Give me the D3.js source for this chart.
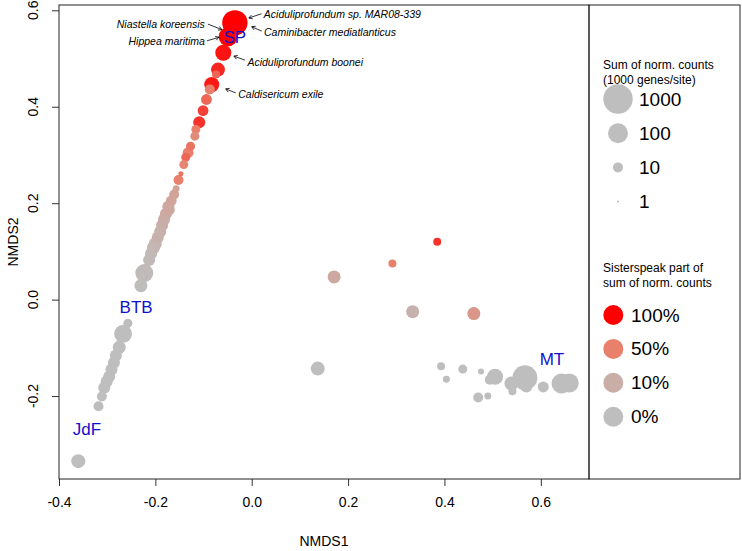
<!DOCTYPE html>
<html><head><meta charset="utf-8">
<script src="https://cdn.jsdelivr.net/npm/d3@7/dist/d3.min.js"></script>
<style>body{margin:0;background:#fff} svg text{font-family:"Liberation Sans",Arial,Helvetica,sans-serif}</style>
</head><body><svg id="c" width="742" height="551"></svg>
<script>
// ---- data ----
const nmds1 = [-0.035,-0.049,-0.059,-0.070,-0.074,-0.083,-0.087,-0.094,-0.101,-0.109,-0.116,-0.118,-0.127,-0.132,-0.137,-0.141,-0.147,
  -0.157,-0.161,-0.167,-0.173,-0.178,-0.182,-0.186,-0.190,-0.195,-0.200,-0.204,-0.209,-0.223,-0.230,
  -0.257,-0.267,-0.275,-0.282,-0.286,-0.291,-0.296,-0.301,-0.306,-0.311,-0.318,-0.360,
  0.385,0.292,0.171,0.334,0.461,0.137,0.393,0.404,0.438,0.476,0.505,0.494,0.470,0.490,0.539,0.541,0.567,0.570,0.605,0.643,0.659,
  -0.213,-0.171,-0.152];
const nmds2 = [0.574,0.545,0.512,0.477,0.467,0.446,0.436,0.415,0.392,0.368,0.353,0.339,0.318,0.305,0.295,0.280,0.261,
  0.230,0.218,0.205,0.193,0.178,0.166,0.154,0.141,0.129,0.116,0.108,0.095,0.055,0.029,
  -0.049,-0.071,-0.099,-0.116,-0.131,-0.145,-0.160,-0.170,-0.183,-0.201,-0.221,-0.335,
  0.120,0.075,0.047,-0.025,-0.029,-0.143,-0.138,-0.165,-0.144,-0.149,-0.160,-0.166,-0.203,-0.200,-0.174,-0.190,-0.162,-0.180,-0.181,-0.174,-0.173,
  0.082,0.186,0.248];
const counts = [375,79,40,25,5.6,32,10,12,12,16,7.5,7.5,7.5,12,7.5,7.5,2.4,
  4.2,10,12,16,16,16,16,16,16,20,20,16,63,20,
  7.5,63,20,16,16,16,16,16,16,10,10,25,
  5.6,5.6,20,20,20,25,5.6,4.2,7.5,3.2,40,10,10,4.2,25,5.6,340,16,12.6,100,79,
  16,12,10];
const spFrac = [1,1,0.92,0.85,0.6,0.9,0.5,0.6,0.75,0.8,0.5,0.4,0.55,0.5,0.6,0.45,0.55,
  0.2,0.2,0.18,0.15,0.14,0.12,0.1,0.09,0.08,0.06,0.05,0.04,0.02,0.01,
  0,0,0,0,0,0,0,0,0,0,0,0,
  0.8,0.5,0.15,0.08,0.3,0,0,0,0,0,0,0,0,0,0,0,0,0,0,0,0,
  0.03,0.16,0.5];

const xTicks = [-0.4,-0.2,0,0.2,0.4,0.6];
const xTickLabels = ["-0.4","-0.2","0.0","0.2","0.4","0.6"];
const yTicks = [-0.2,0,0.2,0.4,0.6];
const yTickLabels = ["-0.2","0.0","0.2","0.4","0.6"];

const siteNames = ["SP","BTB","JdF","MT"];
const siteX = [-0.035,-0.240,-0.342,0.623];
const siteY = [0.544,-0.017,-0.270,-0.124];

const annNames = ["Aciduliprofundum sp. MAR08-339","Caminibacter mediatlanticus","Niastella koreensis","Hippea maritima","Aciduliprofundum boonei","Caldisericum exile"];
const annX = [-0.006,0.000,-0.062,-0.068,-0.037,-0.054];
const annY = [0.584,0.566,0.560,0.544,0.505,0.437];

const sizeLegendValues = [1000,100,10,1];
const sizeLegendLabels = ["1000","100","10","1"];
const fracLegendValues = [1,0.5,0.1,0];
const fracLegendLabels = ["100%","50%","10%","0%"];

// ---- layout ----
const svg = d3.select("#c");
const L = 59, R = 589, T = 5, B = 479, LR = 740;
const x = d3.scaleLinear().domain([-0.4,0.7]).range([L,R]);
const y = d3.scaleLinear().domain([-0.372,0.611]).range([B,T]);
const rScale = d3.scaleLinear().domain([0,1,2,3]).range([1,5,10,14.7]);
const rad = v => rScale(Math.log10(v));
const col = d3.scaleLinear().domain([0,0.1,0.5,1]).range(["#bebebe","#c9aea8","#e8806b","#ff0000"]).interpolate(d3.interpolateRgb);

// points (largest first so small ones stay visible)
const pts = nmds1.map((v,i)=>({x:v,y:nmds2[i],c:counts[i],f:spFrac[i]})).sort((a,b)=>b.c-a.c);
svg.append("g").selectAll("circle").data(pts).join("circle")
  .attr("cx",d=>x(d.x)).attr("cy",d=>y(d.y)).attr("r",d=>rad(d.c))
  .attr("fill",d=>col(d.f));

// site labels
svg.append("g").selectAll("text").data(siteNames).join("text")
  .attr("x",(d,i)=>x(siteX[i])).attr("y",(d,i)=>y(siteY[i]))
  .attr("text-anchor","middle").attr("dominant-baseline","central")
  .attr("font-size",17).attr("fill","#1010cc").text(d=>d);

// annotations: text/arrow-tail offsets from the arrow tip (layout)
const annLayout = [
  {tail:[12.7,-4.3], text:[15,-4.3], anchor:"start"},
  {tail:[10,4.4], text:[12.3,5.4], anchor:"start"},
  {tail:[-14,-5.5], text:[-17,-6], anchor:"end"},
  {tail:[-12,3.5], text:[-14,3.7], anchor:"end"},
  {tail:[11,4], text:[13.5,5.6], anchor:"start"},
  {tail:[10,4], text:[12.5,5], anchor:"start"}
];
const ag = svg.append("g");
annNames.forEach((n,i)=>{
  const tx = x(annX[i]), ty = y(annY[i]);
  const lay = annLayout[i];
  const sx = tx+lay.tail[0], sy = ty+lay.tail[1];
  const ang = Math.atan2(ty-sy, tx-sx);
  const hl = 4, ha = Math.PI/6;
  const p = `M${sx},${sy}L${tx},${ty}M${tx-hl*Math.cos(ang-ha)},${ty-hl*Math.sin(ang-ha)}L${tx},${ty}L${tx-hl*Math.cos(ang+ha)},${ty-hl*Math.sin(ang+ha)}`;
  ag.append("path").attr("d",p).attr("stroke","#000").attr("stroke-width",0.8).attr("fill","none");
  ag.append("text").attr("x",tx+lay.text[0]).attr("y",ty+lay.text[1])
    .attr("text-anchor",lay.anchor).attr("dominant-baseline","central")
    .attr("font-size",10.5).attr("font-style","italic").attr("fill","#000").text(n);
});

// axes
const xa = svg.append("g").attr("transform",`translate(0,${B})`)
  .call(d3.axisBottom(x).tickValues(xTicks).tickSize(7).tickPadding(11).tickFormat((d,i)=>xTickLabels[i]));
xa.select(".domain").remove();
xa.selectAll("text").attr("font-size",14).attr("fill","#000").style("font-family",'"Liberation Sans",Arial,sans-serif');
xa.selectAll("line").attr("stroke","#333");

const ya = svg.append("g").attr("transform",`translate(${L},0)`)
  .call(d3.axisLeft(y).tickValues(yTicks).tickSize(7).tickFormat(""));
ya.select(".domain").remove();
ya.selectAll("line").attr("stroke","#333");
svg.append("g").selectAll("text").data(yTicks).join("text")
  .attr("transform",(d)=>`translate(38,${y(d)}) rotate(-90)`)
  .attr("text-anchor","middle").attr("font-size",14).attr("fill","#000")
  .text((d,i)=>yTickLabels[i]);

svg.append("text").attr("x",(L+R)/2).attr("y",546).attr("text-anchor","middle")
  .attr("font-size",14).text("NMDS1");
svg.append("text").attr("transform",`translate(18,${(T+B)/2}) rotate(-90)`).attr("text-anchor","middle")
  .attr("font-size",14).text("NMDS2");

// frames
svg.append("rect").attr("x",L).attr("y",T).attr("width",R-L).attr("height",B-T)
  .attr("fill","none").attr("stroke","#222").attr("stroke-width",1);
svg.append("rect").attr("x",R).attr("y",T).attr("width",LR-R).attr("height",B-T)
  .attr("fill","none").attr("stroke","#222").attr("stroke-width",1);

// legends
const lg = svg.append("g");
lg.append("text").attr("x",603).attr("y",69).attr("font-size",12).text("Sum of norm. counts");
lg.append("text").attr("x",603).attr("y",84).attr("font-size",12).text("(1000 genes/site)");
sizeLegendValues.forEach((v,i)=>{
  const cy = 99 + i*34.2;
  lg.append("circle").attr("cx",618).attr("cy",cy).attr("r",rad(v)).attr("fill","#bebebe");
  lg.append("text").attr("x",639).attr("y",cy).attr("dominant-baseline","central")
    .attr("font-size",19).text(sizeLegendLabels[i]);
});
lg.append("text").attr("x",603).attr("y",272).attr("font-size",12).text("Sisterspeak part of");
lg.append("text").attr("x",603).attr("y",287).attr("font-size",12).text("sum of norm. counts");
fracLegendValues.forEach((v,i)=>{
  const cy = 315 + i*33.9;
  lg.append("circle").attr("cx",613.3).attr("cy",cy).attr("r",rad(100)).attr("fill",col(v));
  lg.append("text").attr("x",631).attr("y",cy).attr("dominant-baseline","central")
    .attr("font-size",19).text(fracLegendLabels[i]);
});
</script></body></html>
